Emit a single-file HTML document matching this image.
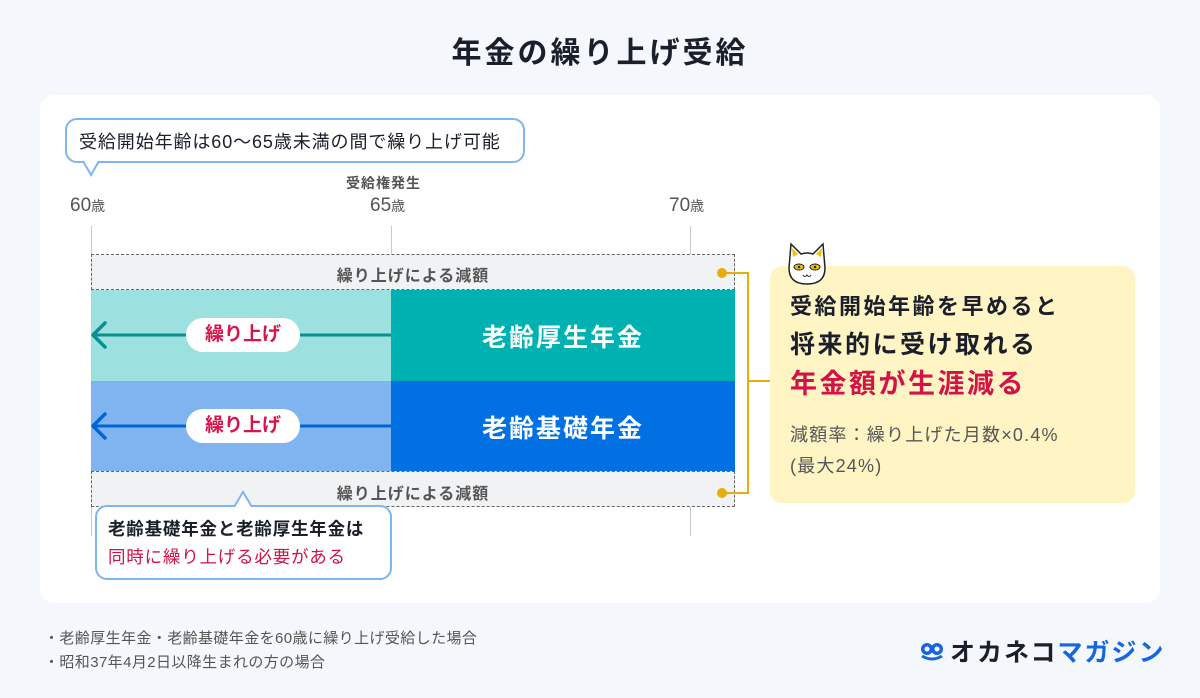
<!DOCTYPE html>
<html><head><meta charset="utf-8"><style>
*{margin:0;padding:0;box-sizing:border-box}
body{width:1200px;height:698px;background:#f4f8fc;position:relative;overflow:hidden;font-family:"Liberation Sans","Noto Sans CJK JP",sans-serif;color:#1a1f2b}
.a{position:absolute}
.t{white-space:nowrap}
</style></head><body>
<div class="a t" style="left:0;width:1200px;top:28px;text-align:center;font-size:30px;font-weight:bold;letter-spacing:3px">年金の繰り上げ受給</div>
<div class="a" style="left:40px;top:95px;width:1120px;height:508px;background:#fff;border-radius:14px"></div>

<div class="a" style="left:91px;top:226px;width:1px;height:310px;background:#c4c8cf"></div>
<div class="a" style="left:391px;top:226px;width:1px;height:64px;background:#c4c8cf"></div>
<div class="a" style="left:690px;top:226px;width:1px;height:310px;background:#c4c8cf"></div>
<div class="a t" style="left:70px;top:195px;font-size:19px;color:#555">60<span style="font-size:14px">歳</span></div>
<div class="a t" style="left:370px;top:195px;font-size:19px;color:#555">65<span style="font-size:14px">歳</span></div>
<div class="a t" style="left:669px;top:195px;font-size:19px;color:#555">70<span style="font-size:14px">歳</span></div>
<div class="a t" style="left:346px;top:173px;font-size:14px;font-weight:bold;color:#555;letter-spacing:1px">受給権発生</div>

<div class="a" style="left:65px;top:118px;width:460px;height:45px;border:2px solid #7db6f0;border-radius:12px;background:#fff"></div>
<svg class="a" style="left:80px;top:160px" width="24" height="18"><path d="M3 1 L11 15 L19 1" fill="#fff" stroke="#7db6f0" stroke-width="2"/></svg>
<div class="a t" style="left:79px;top:128px;font-size:18px;letter-spacing:.9px">受給開始年齢は60〜65歳未満の間で繰り上げ可能</div>

<div class="a" style="left:91px;top:254px;width:644px;height:36px;background:#f1f2f4;border:1px dashed #666"></div>
<div class="a t" style="left:91px;width:644px;top:262px;text-align:center;font-size:16px;font-weight:bold;color:#555;letter-spacing:1px">繰り上げによる減額</div>
<div class="a" style="left:91px;top:471px;width:644px;height:36px;background:#f1f2f4;border:1px dashed #666"></div>
<div class="a t" style="left:91px;width:644px;top:480px;text-align:center;font-size:16px;font-weight:bold;color:#555;letter-spacing:1px">繰り上げによる減額</div>

<div class="a" style="left:91px;top:290px;width:300px;height:91px;background:#9ce0df"></div>
<div class="a" style="left:391px;top:290px;width:344px;height:91px;background:#00b1b1"></div>
<div class="a" style="left:91px;top:381px;width:300px;height:90px;background:#80b4f0"></div>
<div class="a" style="left:391px;top:381px;width:344px;height:90px;background:#0070e3"></div>
<div class="a t" style="left:391px;width:344px;top:318px;text-align:center;color:#fff;font-size:25px;font-weight:bold;letter-spacing:2px">老齢厚生年金</div>
<div class="a t" style="left:391px;width:344px;top:409px;text-align:center;color:#fff;font-size:25px;font-weight:bold;letter-spacing:2px">老齢基礎年金</div>
<svg class="a" style="left:85px;top:318px" width="310" height="130">
<path d="M8 17 H306" stroke="#0a8f90" stroke-width="3"/><path d="M20 5 L8 17 L20 29" fill="none" stroke="#0a8f90" stroke-width="3.5" stroke-linecap="round" stroke-linejoin="round"/>
<path d="M8 108 H306" stroke="#0066d8" stroke-width="3"/><path d="M20 96 L8 108 L20 120" fill="none" stroke="#0066d8" stroke-width="3.5" stroke-linecap="round" stroke-linejoin="round"/>
</svg>
<div class="a t" style="left:186px;top:318px;width:114px;height:34px;border-radius:17px;background:#fff;text-align:center;line-height:34px;font-size:19px;font-weight:bold;color:#d9144a">繰り上げ</div>
<div class="a t" style="left:186px;top:409px;width:114px;height:34px;border-radius:17px;background:#fff;text-align:center;line-height:34px;font-size:19px;font-weight:bold;color:#d9144a">繰り上げ</div>

<svg class="a" style="left:710px;top:260px" width="70" height="245">
<path d="M12 13 H38 V233 H12 M38 121 H62" fill="none" stroke="#e8ad0a" stroke-width="2"/>
<circle cx="12" cy="13" r="5" fill="#e8ad0a"/><circle cx="12" cy="233" r="5" fill="#e8ad0a"/>
</svg>

<div class="a" style="left:770px;top:266px;width:365px;height:237px;background:#fff4c4;border-radius:12px"></div>
<svg class="a" style="left:783px;top:240px" width="48" height="46">
<path d="M6 28 L8 4 L18 14 Q24 12 30 14 L40 4 L42 28 Q42 44 24 44 Q6 44 6 28Z" fill="#fff" stroke="#222" stroke-width="1.5"/>
<path d="M9 8 L10 17 L15 14Z M39 8 L38 17 L33 14Z" fill="#f3c300"/>
<ellipse cx="16" cy="27" rx="5" ry="3" fill="#f3c300" stroke="#222"/><ellipse cx="32" cy="27" rx="5" ry="3" fill="#f3c300" stroke="#222"/>
<circle cx="16" cy="27" r="1.3" fill="#222"/><circle cx="32" cy="27" r="1.3" fill="#222"/>
<path d="M20 35 Q22 38 24 35 Q26 38 28 35" fill="none" stroke="#222"/>
</svg>
<div class="a t" style="left:790px;top:287px;font-size:22px;font-weight:bold;letter-spacing:2.5px;line-height:39px">受給開始年齢を早めると<br><span style="font-size:25px">将来的に受け取れる</span><br><span style="font-size:27px;color:#d31245">年金額が生涯減る</span></div>
<div class="a t" style="left:790px;top:420px;font-size:18px;color:#555;line-height:31px;letter-spacing:1.2px">減額率：繰り上げた月数×0.4%<br>(最大24%)</div>

<div class="a" style="left:95px;top:505px;width:297px;height:75px;border:2px solid #7db6f0;border-radius:12px;background:#fff"></div>
<svg class="a" style="left:231px;top:490px" width="24" height="18"><path d="M3 17 L12 2 L21 17" fill="#fff" stroke="#7db6f0" stroke-width="2"/><path d="M2 18 H22" stroke="#fff" stroke-width="2"/></svg>
<div class="a t" style="left:108px;top:515px;font-size:17.5px;font-weight:bold;line-height:28px;letter-spacing:.8px">老齢基礎年金と老齢厚生年金は<br><span style="color:#d31245;font-weight:normal">同時に繰り上げる必要がある</span></div>

<div class="a t" style="left:44px;top:627px;font-size:15px;color:#555;line-height:24px;letter-spacing:.4px">・老齢厚生年金・老齢基礎年金を60歳に繰り上げ受給した場合<br>・昭和37年4月2日以降生まれの方の場合</div>
<svg class="a" style="left:920px;top:638px" width="24" height="24"><circle cx="7" cy="11" r="6" fill="#1666e0"/><circle cx="17" cy="11" r="6" fill="#1666e0"/><circle cx="7" cy="11" r="2.5" fill="#fff"/><circle cx="17" cy="11" r="2.5" fill="#fff"/><path d="M2 18 Q12 24 22 18" stroke="#1666e0" stroke-width="3" fill="none"/></svg>
<div class="a t" style="left:950px;top:633px;font-size:25px;font-weight:bold;letter-spacing:2px">オカネコ<span style="color:#1666e0">マガジン</span></div>
</body></html>
